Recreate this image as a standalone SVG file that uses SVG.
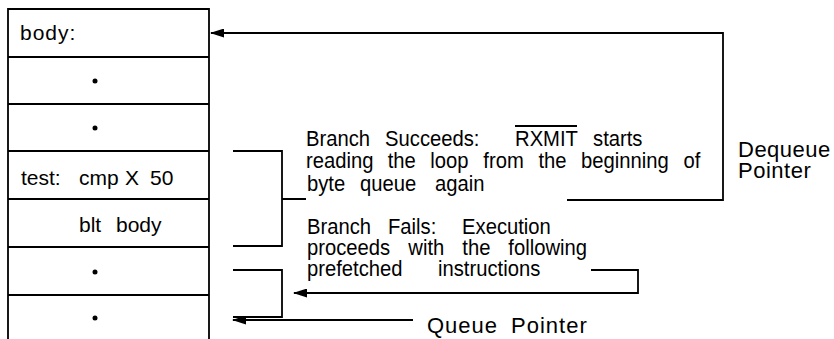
<svg xmlns="http://www.w3.org/2000/svg" width="834" height="339" viewBox="0 0 834 339">
<style>
.ln{stroke:#000;stroke-width:1.8;fill:none}
.t{font-family:"Liberation Sans",Arial,sans-serif;font-size:22px;fill:#000}
.b{font-family:"Liberation Sans",Arial,sans-serif;font-size:21px;fill:#000}
.dot{fill:#000}
</style>
<defs>
<marker id="ah" markerWidth="14" markerHeight="9" refX="13" refY="4.5" orient="auto" markerUnits="userSpaceOnUse">
<path d="M0,0 L14,4.5 L0,9 Z" fill="#000"/>
</marker>
</defs>
<rect width="834" height="339" fill="#fff"/>
<g id="queue">
<path class="ln" d="M8,339 V9 H209 V339"/>
<path class="ln" d="M8,57 H209 M8,104 H209 M8,151 H209 M8,199 H209 M8,247 H209 M8,295 H209"/>
</g>
<g id="row-body"><text class="b" x="20" y="40" letter-spacing="1">body:</text></g>
<g id="row-dot1"><circle class="dot" cx="95" cy="81" r="2.5"/></g>
<g id="row-dot2"><circle class="dot" cx="95" cy="128" r="2.5"/></g>
<g id="row-test"><text class="b" y="185"><tspan x="21">test:</tspan><tspan x="79">cmp</tspan><tspan x="125">X</tspan><tspan x="150">50</tspan></text></g>
<g id="row-blt"><text class="b" y="232"><tspan x="79">blt</tspan><tspan x="116">body</tspan></text></g>
<g id="row-dot3"><circle class="dot" cx="95" cy="272" r="2.5"/></g>
<g id="row-dot4"><circle class="dot" cx="95" cy="318" r="2.5"/></g>
<g id="connectors">
<path class="ln" d="M567,200 H723 V33 H211" marker-end="url(#ah)"/>
<path class="ln" d="M233,151 H282 V246 H233 M282,199 H306"/>
<path class="ln" d="M233,270 H282 V317 H233"/>
<path class="ln" d="M591,270 H638 V293 H294" marker-end="url(#ah)"/>
<path class="ln" d="M413,320 H233" marker-end="url(#ah)"/>
</g>
<g id="label-succeeds">
<text class="t" transform="translate(306,146) scale(0.92,1)"><tspan x="0">Branch</tspan><tspan x="85.9">Succeeds:</tspan><tspan x="227.2">RXMIT</tspan><tspan x="312">starts</tspan></text>
<path class="ln" d="M515,126 H577" stroke-width="1.5"/>
<text class="t" transform="translate(306,168) scale(0.92,1)"><tspan x="0">reading</tspan><tspan x="88.8">the</tspan><tspan x="135.2">loop</tspan><tspan x="192.7">from</tspan><tspan x="252.6">the</tspan><tspan x="299">beginning</tspan><tspan x="410.2">of</tspan></text>
<text class="t" transform="translate(306,191) scale(0.92,1)"><tspan x="1.1">byte</tspan><tspan x="58.7">queue</tspan><tspan x="140.2">again</tspan></text>
</g>
<g id="label-fails">
<text class="t" transform="translate(306,234) scale(0.92,1)"><tspan x="1.1">Branch</tspan><tspan x="89.1">Fails:</tspan><tspan x="169.6">Execution</tspan></text>
<text class="t" transform="translate(306,255) scale(0.92,1)"><tspan x="1.1">proceeds</tspan><tspan x="111.2">with</tspan><tspan x="169.9">the</tspan><tspan x="219.9">following</tspan></text>
<text class="t" transform="translate(306,276) scale(0.92,1)"><tspan x="1.1">prefetched</tspan><tspan x="143.5">instructions</tspan></text>
</g>
<g id="label-dequeue">
<text class="t" y="157" x="738" letter-spacing="0.5">Dequeue</text>
<text class="t" y="178" x="738" letter-spacing="0.5">Pointer</text>
</g>
<g id="label-queue">
<text class="t" y="333" letter-spacing="1"><tspan x="427">Queue</tspan><tspan x="511">Pointer</tspan></text>
</g>
</svg>
